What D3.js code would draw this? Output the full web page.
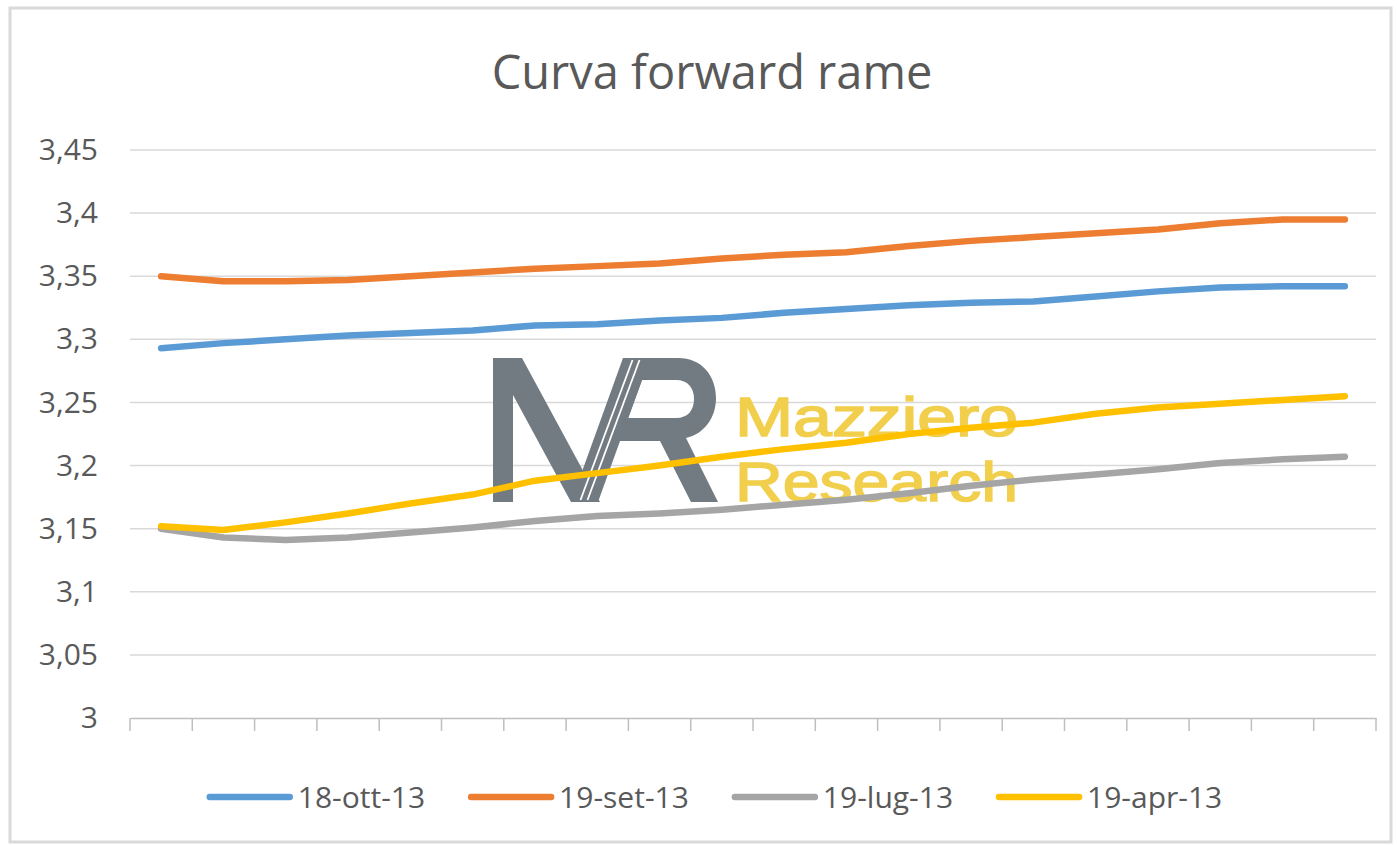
<!DOCTYPE html>
<html>
<head>
<meta charset="utf-8">
<title>Curva forward rame</title>
<script src="https://cdn.jsdelivr.net/npm/d3@7"></script>
<style>
	html, body { margin: 0; padding: 0; background: #ffffff; }
	svg { display: block; }
</style>
</head>
<body>
<script>
// categories (points of the forward curve, no labels shown on the axis)
var categories = ["1", "2", "3", "4", "5", "6", "7", "8", "9", "10",
	"11", "12", "13", "14", "15", "16", "17", "18", "19", "20"];

// series values
var ott13 = [3.293, 3.297, 3.300, 3.303, 3.305, 3.307, 3.311, 3.312, 3.315, 3.317,
	3.321, 3.324, 3.327, 3.329, 3.330, 3.334, 3.338, 3.341, 3.342, 3.342];
var set13 = [3.350, 3.346, 3.346, 3.347, 3.350, 3.353, 3.356, 3.358, 3.360, 3.364,
	3.367, 3.369, 3.374, 3.378, 3.381, 3.384, 3.387, 3.392, 3.395, 3.395];
var lug13 = [3.150, 3.143, 3.141, 3.143, 3.147, 3.151, 3.156, 3.160, 3.162, 3.165,
	3.169, 3.173, 3.178, 3.184, 3.189, 3.193, 3.197, 3.202, 3.205, 3.207];
var apr13 = [3.152, 3.149, 3.155, 3.162, 3.170, 3.177, 3.188, 3.194, 3.200, 3.207,
	3.213, 3.218, 3.225, 3.230, 3.234, 3.241, 3.246, 3.249, 3.252, 3.255];

var seriesNames = ["18-ott-13", "19-set-13", "19-lug-13", "19-apr-13"];
var seriesColors = ["#5b9bd5", "#ed7d31", "#a5a5a5", "#ffc000"];
var yTicks = [3, 3.05, 3.1, 3.15, 3.2, 3.25, 3.3, 3.35, 3.4, 3.45];

var title = "Curva forward rame";

document.addEventListener("DOMContentLoaded", function () {
	var width = 1397;
	var height = 845;
	var margin = { top: 150, right: 21, bottom: 127, left: 130 };
	var textColor = "#595959";
	var font = "'Open Sans', sans-serif";

	var svg = d3.select("body").append("svg")
		.attr("width", width)
		.attr("height", height);

	// chart frame
	svg.append("rect")
		.attr("x", 10)
		.attr("y", 8)
		.attr("width", 1381)
		.attr("height", 834)
		.attr("fill", "#ffffff")
		.attr("stroke", "#d9d9d9")
		.attr("stroke-width", 3);

	// scales: one band per category, lines go through band centres
	var x = d3.scaleBand()
		.domain(categories)
		.range([margin.left, width - margin.right])
		.paddingInner(0)
		.paddingOuter(0);
	var y = d3.scaleLinear()
		.domain([3, 3.45])
		.range([height - margin.bottom, margin.top]);

	// title
	svg.append("text")
		.attr("x", 712)
		.attr("y", 89)
		.attr("text-anchor", "middle")
		.attr("font-family", font)
		.attr("font-size", 47)
		.attr("fill", textColor)
		.text(title);

	// horizontal gridlines
	svg.append("g")
		.selectAll("line")
		.data(yTicks.filter(function (d) { return d > 3; }))
		.join("line")
		.attr("x1", margin.left)
		.attr("x2", width - margin.right)
		.attr("y1", function (d) { return y(d); })
		.attr("y2", function (d) { return y(d); })
		.attr("stroke", "#d9d9d9")
		.attr("stroke-width", 1.5);

	// Y axis labels, italian decimal comma
	var fmt = function (d) { return String(+d.toFixed(2)).replace(".", ","); };
	var yAxis = d3.axisLeft(y)
		.tickValues(yTicks)
		.tickFormat(fmt)
		.tickSize(0)
		.tickPadding(32);
	var gy = svg.append("g")
		.attr("transform", "translate(" + margin.left + ",0)")
		.call(yAxis);
	gy.select(".domain").remove();
	gy.selectAll("text")
		.attr("font-family", font)
		.attr("font-size", 30)
		.attr("fill", textColor);

	// X axis: baseline plus tick marks between categories
	var xAxis = d3.axisBottom(x).tickSize(0).tickFormat("");
	var gx = svg.append("g")
		.attr("transform", "translate(0," + y(3) + ")")
		.call(xAxis);
	gx.select(".domain")
		.attr("stroke", "#bfbfbf")
		.attr("stroke-width", 1.5);
	var tickPos = categories.map(function (c) { return x(c); });
	tickPos.push(x.range()[1]);
	gx.selectAll(".sep")
		.data(tickPos)
		.join("line")
		.attr("class", "sep")
		.attr("x1", function (d) { return d; })
		.attr("x2", function (d) { return d; })
		.attr("y1", 0)
		.attr("y2", 13)
		.attr("stroke", "#bfbfbf")
		.attr("stroke-width", 1.5);

	/* watermark (logo), sits behind the lines */
	var wm = svg.append("g").attr("class", "watermark");
	var logoGray = "#737b82";
	// left stem, falling diagonal and rising slash of the "M"
	var logoShapes = [
		"M493,358 L513,358 L513,502 L493,502 Z",
		"M493,358 L522,358 L600,502 L571,502 Z",
		"M571,502 L598,502 L650,358 L623,358 Z",
		// "R" bowl and leg, counter cut out
		"M623,358 L678,358 C702,358 716,376 716,398 C716,418 704,434 686,438 " +
			"L718,502 L691,502 L660,441 L615,441 Z " +
			"M642,380 L676,380 C688,380 694,388 694,399 C694,410 688,418 676,418 L628,418 Z"
	];
	wm.selectAll("path")
		.data(logoShapes)
		.join("path")
		.attr("d", function (d) { return d; })
		.attr("fill", logoGray)
		.attr("fill-rule", "evenodd");
	// double white stripe inside the slash
	[-3.5, 3.5].forEach(function (off) {
		wm.append("line")
			.attr("x1", 584 + off)
			.attr("y1", 500)
			.attr("x2", 636 + off)
			.attr("y2", 360)
			.attr("stroke", "#ffffff")
			.attr("stroke-width", 1.8);
	});
	var wmText = wm.append("text")
		.attr("font-family", "'Liberation Sans', Arial, sans-serif")
		.attr("font-size", 56)
		.attr("fill", "#f1cf4c")
		.attr("stroke", "#f1cf4c")
		.attr("stroke-width", 1.5);
	wmText.append("tspan")
		.attr("x", 735)
		.attr("y", 436)
		.attr("textLength", 283)
		.attr("lengthAdjust", "spacingAndGlyphs")
		.text("Mazziero");
	wmText.append("tspan")
		.attr("x", 735)
		.attr("y", 501)
		.attr("textLength", 283)
		.attr("lengthAdjust", "spacingAndGlyphs")
		.text("Research");

	// series lines
	var allSeries = [ott13, set13, lug13, apr13];
	var line = d3.line()
		.x(function (d, i) { return x(categories[i]) + x.bandwidth() / 2; })
		.y(function (d) { return y(d); });

	svg.append("g")
		.selectAll("path")
		.data(allSeries)
		.join("path")
		.attr("fill", "none")
		.attr("stroke", function (d, i) { return seriesColors[i]; })
		.attr("stroke-width", 6.5)
		.attr("stroke-linecap", "round")
		.attr("stroke-linejoin", "round")
		.attr("d", line);

	// legend, laid out from measured text widths and centred
	var legendY = 797;
	var legend = svg.append("g");
	var items = legend.selectAll("g")
		.data(seriesNames)
		.join("g");
	items.append("line")
		.attr("x1", 0)
		.attr("x2", 80)
		.attr("y1", 0)
		.attr("y2", 0)
		.attr("stroke", function (d, i) { return seriesColors[i]; })
		.attr("stroke-width", 6.5)
		.attr("stroke-linecap", "round");
	items.append("text")
		.attr("x", 88)
		.attr("dy", "0.35em")
		.attr("font-family", font)
		.attr("font-size", 30)
		.attr("fill", textColor)
		.text(function (d) { return d; });

	var offsets = [];
	var pos = 0;
	items.each(function () {
		offsets.push(pos);
		var w = d3.select(this).select("text").node().getComputedTextLength();
		pos += 88 + w + 46;
	});
	var total = pos - 46;
	var start = 716 - total / 2;
	items.attr("transform", function (d, i) {
		return "translate(" + (start + offsets[i]) + "," + legendY + ")";
	});
});
</script>
</body>
</html>
